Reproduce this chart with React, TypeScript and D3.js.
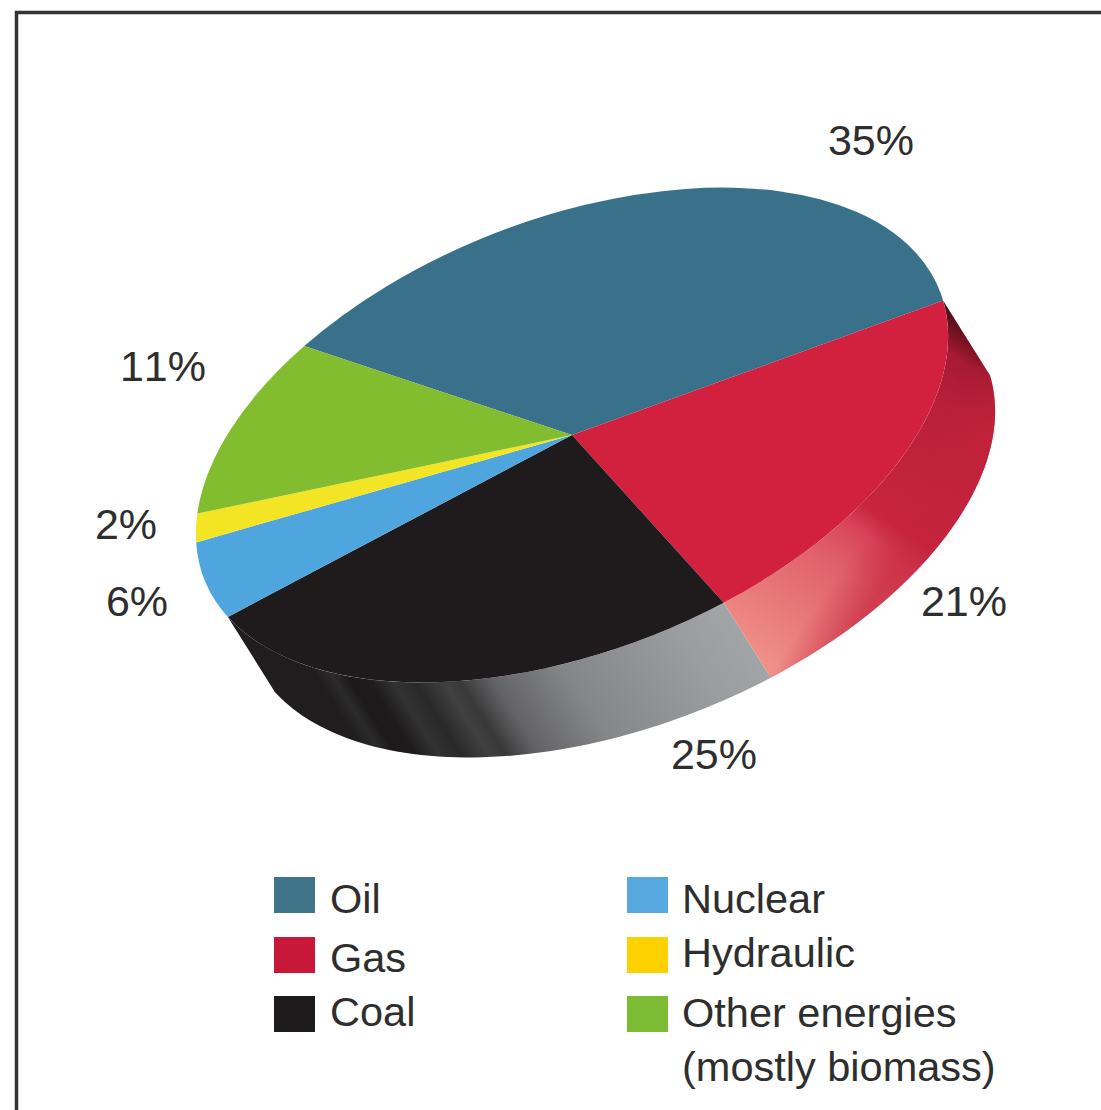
import React from "react";
import * as d3 from "d3";

// World energy mix, share of primary supply in percent.
const categories = ["Oil", "Gas", "Coal", "Nuclear", "Hydraulic", "Other energies"];
const shares = [35, 21, 25, 6, 2, 11];
const shareLabels = ["35%", "21%", "25%", "6%", "2%", "11%"];
const faceColors = ["#39708a", "#d2203f", "#1f1b1c", "#4fa6de", "#f4e524", "#82bd30"];
const legendColors = ["#3f7489", "#c8183a", "#1c1a1b", "#58a8e0", "#fdd000", "#7cbc34"];
const labelCenters = [
  [871, 155],
  [964, 616],
  [714, 769],
  [137, 616],
  [126, 539],
  [163, 381],
];

// Geometry of the tilted disc.
const W = 1101;
const H = 1110;
const CX = 572;
const CY = 435;
const SEMI_MAJOR = 395;
const SEMI_MINOR = 216;
const TILT = (21.4 * Math.PI) / 180;
const DEPTH = { x: 47, y: 75 };
const START_DEG = 326.7;
const ARC_RADIUS = 1000;

const axisA = { x: SEMI_MAJOR * Math.cos(TILT), y: -SEMI_MAJOR * Math.sin(TILT) };
const axisB = { x: SEMI_MINOR * Math.sin(TILT), y: SEMI_MINOR * Math.cos(TILT) };

// d3 angles run clockwise from 12 o'clock, so a quarter turn gives the ellipse parameter.
const rimPoint = (angle: number, dx = 0, dy = 0): [number, number] => {
  const t = angle - Math.PI / 2;
  return [
    CX + Math.cos(t) * axisA.x + Math.sin(t) * axisB.x + dx,
    CY + Math.cos(t) * axisA.y + Math.sin(t) * axisB.y + dy,
  ];
};

const pie = d3
  .pie<number>()
  .sort(null)
  .value((d) => d)
  .startAngle((START_DEG * Math.PI) / 180)
  .endAngle((START_DEG * Math.PI) / 180 + 2 * Math.PI);
const slices = pie(shares);
const arc = d3.arc<d3.PieArcDatum<number>>().innerRadius(0).outerRadius(ARC_RADIUS);
const faceTransform = `matrix(${axisA.x / ARC_RADIUS} ${axisA.y / ARC_RADIUS} ${axisB.x / ARC_RADIUS} ${axisB.y / ARC_RADIUS} ${CX} ${CY})`;

const outline = d3.line();
const wallPath = (s: d3.PieArcDatum<number>) => {
  const steps = d3.range(0, 61).map((i) => s.startAngle + ((s.endAngle - s.startAngle) * i) / 60);
  return (
    outline([
      ...steps.map((a) => rimPoint(a)),
      ...steps.slice().reverse().map((a) => rimPoint(a, DEPTH.x, DEPTH.y)),
    ]) + "Z"
  );
};

const gasWallStops: [number, string][] = [
  [0, "#f09089"],
  [0.14, "#e87a7a"],
  [0.3, "#e0626a"],
  [0.41, "#d9445c"],
  [0.47, "#c8253f"],
  [0.8, "#b81f39"],
  [0.91, "#a61a32"],
  [0.97, "#6a1020"],
  [1, "#4a0c16"],
];
const coalWallStops: [number, string][] = [
  [0, "#1f1d1e"],
  [0.16, "#1f1d1e"],
  [0.19, "#2c2b2b"],
  [0.215, "#1b191a"],
  [0.25, "#1d1b1c"],
  [0.29, "#333233"],
  [0.33, "#2a2929"],
  [0.38, "#414041"],
  [0.41, "#3a393a"],
  [0.47, "#636365"],
  [0.61, "#858688"],
  [0.85, "#9a9c9f"],
  [1, "#a4a7a9"],
];

const legendLeft = [
  { index: 0, box: 877, base: 913 },
  { index: 1, box: 937, base: 972 },
  { index: 2, box: 996, base: 1026 },
];
const legendRight = [
  { index: 3, box: 877, base: 913 },
  { index: 4, box: 937, base: 967 },
  { index: 5, box: 996, base: 1027 },
];
const legendNote = "(mostly biomass)";

const FONT = "'Liberation Sans', Arial, sans-serif";
const INK = "#2e2e2e";

export default function App() {
  return (
    <svg
      width={W}
      height={H}
      viewBox={`0 0 ${W} ${H}`}
      style={{ position: "absolute", left: 0, top: 0, background: "#fff" }}
      fontFamily={FONT}
    >
      <defs>
        <linearGradient id="wall-gas" gradientUnits="userSpaceOnUse" x1={745} y1={650} x2={965} y2={320}>
          {gasWallStops.map(([o, c]) => (
            <stop key={o} offset={o} stopColor={c} />
          ))}
        </linearGradient>
        {/* Redder lower edge laid across the pale part of the gas wall */}
        <linearGradient id="wall-gas-edge" gradientUnits="userSpaceOnUse" x1={800} y1={565} x2={866} y2={609}>
          <stop offset={0.45} stopColor="#c4233c" stopOpacity={0} />
          <stop offset={1} stopColor="#c4233c" stopOpacity={0.6} />
        </linearGradient>
        <linearGradient id="wall-coal" gradientUnits="userSpaceOnUse" x1={260} y1={730} x2={663} y2={477}>
          {coalWallStops.map(([o, c]) => (
            <stop key={o} offset={o} stopColor={c} />
          ))}
        </linearGradient>
      </defs>

      {/* Frame: only the top and left rules are on the page */}
      <path d={`M${W} 12.5H16.5V${H}`} fill="none" stroke="#333" strokeWidth={3.5} />

      {/* Side wall of the disc */}
      <path d={wallPath(slices[1])} fill="url(#wall-gas)" />
      <path d={wallPath(slices[1])} fill="url(#wall-gas-edge)" />
      <path d={wallPath(slices[2])} fill="url(#wall-coal)" />

      {/* Top face */}
      <g transform={faceTransform}>
        {slices.map((s, i) => (
          <path key={categories[i]} d={arc(s) as string} fill={faceColors[i]} />
        ))}
      </g>

      {/* Share labels */}
      <g fontSize={43} fill={INK} textAnchor="middle" style={{ fontKerning: "none" }}>
        {shareLabels.map((label, i) => (
          <text key={label} x={labelCenters[i][0]} y={labelCenters[i][1]}>
            {label}
          </text>
        ))}
      </g>

      {/* Legend */}
      <g fontSize={41.5} fill={INK}>
        {legendLeft.map(({ index, box, base }) => (
          <g key={categories[index]}>
            <rect x={274} y={box} width={41} height={36} fill={legendColors[index]} />
            <text x={330} y={base}>{categories[index]}</text>
          </g>
        ))}
        {legendRight.map(({ index, box, base }) => (
          <g key={categories[index]}>
            <rect x={627} y={box} width={41} height={36} fill={legendColors[index]} />
            <text x={682} y={base}>{categories[index]}</text>
          </g>
        ))}
        <text x={682} y={1081}>{legendNote}</text>
      </g>
    </svg>
  );
}
